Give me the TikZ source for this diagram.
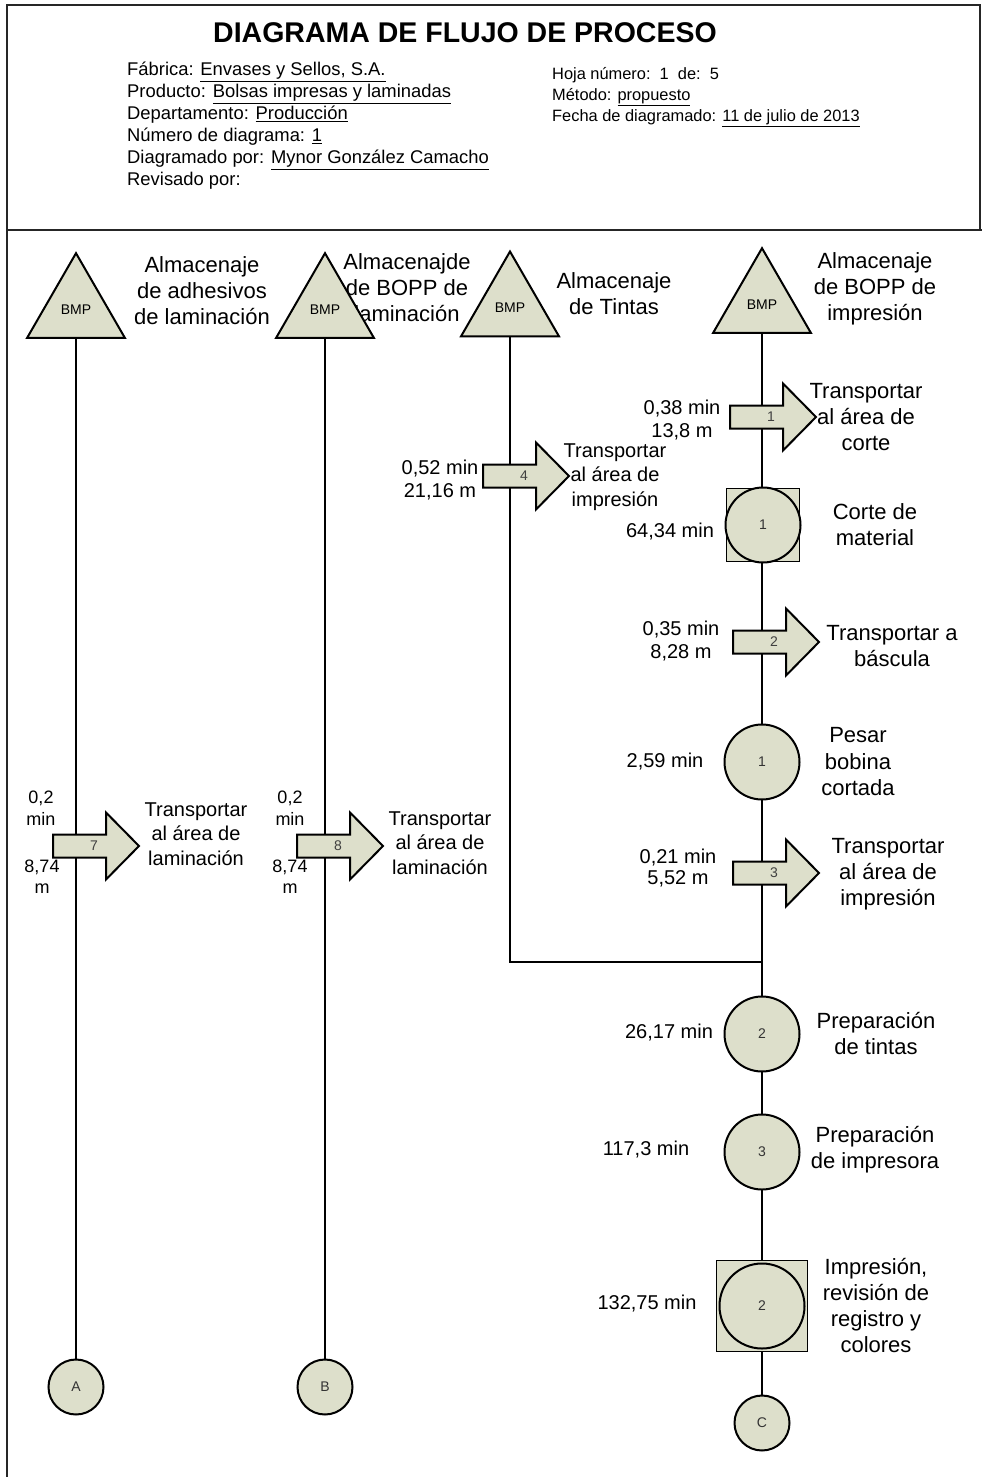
\documentclass[tikz,border=0pt]{standalone}
\usepackage{fontspec}
\setmainfont{Liberation Sans}
\usetikzlibrary{shapes.geometric}
\definecolor{shp}{RGB}{221,223,203}
\tikzset{
  frame/.style={line width=1.5pt, draw=black!85},
  conn/.style={line width=1.2pt},
  tri/.style={regular polygon, regular polygon sides=3, minimum size=113pt, inner sep=0pt,
    fill=shp, draw=black, line width=2pt, font=\fontsize{14}{14}\selectfont},
  opc/.style={circle, minimum size=75pt, inner sep=0pt, fill=shp, draw=black, line width=2pt,
    font=\fontsize{14}{14}\selectfont, text=black!80},
  sqbox/.style={rectangle, inner sep=0pt, fill=shp, draw=black, line width=1.8pt},
  conc/.style={circle, minimum size=55pt, inner sep=0pt, fill=shp, draw=black, line width=2pt,
    font=\fontsize{14}{14}\selectfont, text=black!80},
  big/.style={align=center, inner sep=0pt, font=\fontsize{22}{26}\selectfont},
  med/.style={align=center, inner sep=0pt, font=\fontsize{20}{24.5}\selectfont},
  small/.style={align=center, inner sep=0pt, font=\fontsize{20}{23}\selectfont},
  arrowbody/.style={fill=shp, draw=black, line width=2pt, line join=miter},
  anum/.style={inner sep=0pt, font=\fontsize{14}{14}\selectfont, text=black!75},
}
\newcommand\blockarr[4]{%
  \draw[arrowbody] (#2,#3-11.5) -- ++(53,0) -- ++(0,-22) -- ++(33,33.5) -- ++(-33,33.5)
    -- ++(0,-22) -- ++(-53,0) -- cycle;
  \node[anum] (#1) at (#2+41,#3) {#4};
}
\begin{document}
\begin{tikzpicture}[x=1pt,y=-1pt]
\useasboundingbox (0,0) rectangle (982,1477);
% frame
\draw[frame] (7,1477) -- (7,5) -- (980,5) -- (980,230);
\draw[frame] (7,230) -- (982,230);
% header
\node[font=\fontsize{28.5}{30}\selectfont\bfseries, inner sep=0pt] (title) at (465,33) {DIAGRAMA DE FLUJO DE PROCESO};
\node[anchor=west, align=left, inner sep=0pt, font=\fontsize{18.4}{22}\selectfont] (hl) at (127,126) {%
Fábrica: \underline{Envases y Sellos, S.A.}\\
Producto: \underline{Bolsas impresas y laminadas}\\
Departamento: \underline{Producción}\\
Número de diagrama: \underline{1}\\
Diagramado por: \underline{Mynor González Camacho}\\
Revisado por:};
\node[anchor=west, align=left, inner sep=0pt, font=\fontsize{16.4}{21}\selectfont] (hr) at (552,97) {%
Hoja número:\ \ 1\ \ de:\ \ 5\\
Método: \underline{propuesto}\\
Fecha de diagramado: \underline{11 de julio de 2013}};

% labels of storages (drawn before the triangles)
\node[big] (L1) at (202,291) {Almacenaje\\de adhesivos\\de laminación};
\node[big] (L2) at (407,288) {Almacenajde\\de BOPP de\\laminación};
\node[big] (L3) at (614,294) {Almacenaje\\de Tintas};
\node[big] (L4) at (875,289) {Almacenaje\\de BOPP de\\impresión};

% coordinates of nodes
\coordinate (J) at (762,962);
\path (76,1387) coordinate (pA) (325,1387) coordinate (pB) (762,1423) coordinate (pC);

% connectors (behind shapes)
\draw[conn] (76,338) coordinate (t1b) -- (pA);
\draw[conn] (325,338) coordinate (t2b) -- (pB);
\draw[conn] (510,337) coordinate (t3b) |- (J);
\draw[conn] (762,333) coordinate (t4b) -- (pC);

% storages
\node[tri] (T1) at (76,309.7) {BMP};
\node[tri] (T2) at (325,309.7) {BMP};
\node[tri] (T3) at (510,308) {BMP};
\node[tri] (T4) at (762,304.7) {BMP};

% connectors ends
\node[conc] (A) at (pA) {A};
\node[conc] (B) at (pB) {B};
\node[conc] (C) at (pC) {C};

% column 4 operations
\node[sqbox, minimum size=73pt] (S1) at (763,525) {};
\node[opc] (O1) at (763,525) {1};
\node[opc] (O2) at (762,762) {1};
\node[opc] (O3) at (762,1034) {2};
\node[opc] (O4) at (762,1152) {3};
\node[sqbox, minimum size=91pt] (S2) at (762,1306) {};
\node[opc, minimum size=85pt] (O5) at (762,1306) {2};

% transports
\blockarr{A1}{730}{417}{1}
\blockarr{A4}{483}{476}{4}
\blockarr{A2}{733}{642}{2}
\blockarr{A3}{733}{873}{3}
\blockarr{A7}{53}{846}{7}
\blockarr{A8}{297}{846}{8}

% texts column 4
\node[big] (tA1) at (866,417) {Transportar\\al área de\\corte};
\node[small] (dA1) at (682,420.5) {0,38 min\\13,8 m};
\node[big] (tO1) at (875,525) {Corte de\\material};
\node[small] (dO1) at (670,532) {64,34 min};
\node[big] (tA2) at (892,646) {Transportar a\\báscula};
\node[small] (dA2) at (681,641) {0,35 min\\8,28 m};
\node[big, font=\fontsize{22}{26.5}\selectfont] (tO2) at (858,762) {Pesar\\bobina\\cortada};
\node[small] (dO2) at (665,762) {2,59 min};
\node[big] (tA3) at (888,874) {Transportar\\al área de\\impresión};
\node[small, font=\fontsize{20}{21}\selectfont] (dA3) at (678,868) {0,21 min\\5,52 m};
\node[big] (tO3) at (876,1033) {Preparación\\de tintas};
\node[small] (dO3) at (669,1033) {26,17 min};
\node[big] (tO4) at (875,1150) {Preparación\\de impresora};
\node[small] (dO4) at (646,1150) {117,3 min};
\node[big] (tO5) at (876,1305) {Impresión,\\revisión de\\registro y\\colores};
\node[small] (dO5) at (647,1304) {132,75 min};

% texts column 3
\node[med] (tA4) at (615,477) {Transportar\\al área de\\impresión};
\node[small] (dA4) at (440,480) {0,52 min\\21,16 m};

% texts columns 1 and 2
\node[med] (tA7) at (196,834) {Transportar\\al área de\\laminación};
\node[small, font=\fontsize{18}{22}\selectfont] (dA7a) at (41,808) {0,2\\min};
\node[small, font=\fontsize{18}{21}\selectfont] (dA7b) at (42,877) {8,74\\m};
\node[med] (tA8) at (440,843) {Transportar\\al área de\\laminación};
\node[small, font=\fontsize{18}{22}\selectfont] (dA8a) at (290,808) {0,2\\min};
\node[small, font=\fontsize{18}{21}\selectfont] (dA8b) at (290,877) {8,74\\m};
\end{tikzpicture}
\end{document}
